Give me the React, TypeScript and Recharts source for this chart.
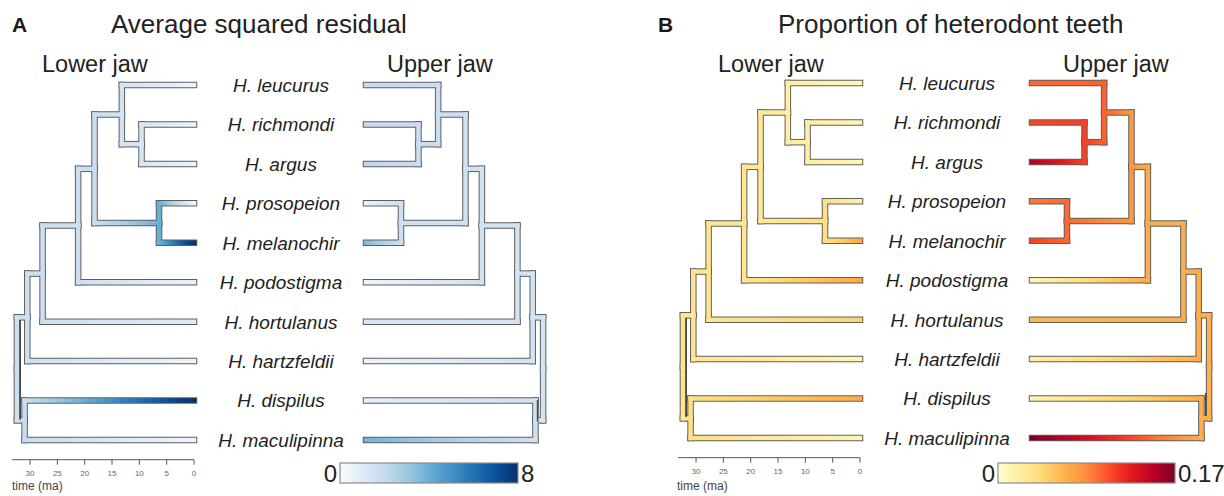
import React from "react";
import { ComposedChart, XAxis, YAxis, ReferenceLine } from "recharts";

const FONT = '"Liberation Sans", Arial, sans-serif';
const OUTLINE = "#5f5f5f";

const species = [
  "H. leucurus",
  "H. richmondi",
  "H. argus",
  "H. prosopeion",
  "H. melanochir",
  "H. podostigma",
  "H. hortulanus",
  "H. hartzfeldii",
  "H. dispilus",
  "H. maculipinna",
];

// internal nodes get ids 10..18 (after the tips), listed with their two children
const nodeChildren: [number, number][] = [
  [1, 2],
  [0, 10],
  [3, 4],
  [11, 12],
  [13, 5],
  [14, 6],
  [15, 7],
  [8, 9],
  [16, 17],
];
// node ages in ma, same order
const nodeAges = [9.6, 13.2, 6.4, 18.2, 21.2, 27.7, 30.5, 31.0, 32.4];

const timeTicks = [0, 5, 10, 15, 20, 25, 30];
const rowTicks = species.map((_, i) => i);

// mapped values: 10 tips (species order) then nodes 10..18
const residualLower = [
  0.4, 0.5, 0.5, 0.3, 8.0, 0.6, 1.0, 0.4, 8.0, 0.4,
  1.3, 1.5, 4.0, 1.8, 1.7, 1.7, 1.7, 1.9, 1.7,
];
const residualUpper = [
  2.0, 1.8, 2.2, 0.6, 3.5, 0.5, 1.3, 0.5, 0.8, 3.8,
  1.8, 1.8, 1.7, 1.6, 1.5, 1.5, 1.5, 1.6, 1.5,
];
const heterodontLower = [
  0.01, 0.012, 0.012, 0.015, 0.068, 0.07, 0.045, 0.012, 0.068, 0.012,
  0.018, 0.02, 0.035, 0.025, 0.03, 0.03, 0.03, 0.035, 0.03,
];
const heterodontUpper = [
  0.097, 0.11, 0.15, 0.092, 0.112, 0.012, 0.062, 0.018, 0.015, 0.17,
  0.112, 0.1, 0.097, 0.08, 0.068, 0.066, 0.066, 0.066, 0.066,
];

const bluesPalette = [
  "#f7fbff", "#deebf7", "#c6dbef", "#9ecae1", "#6baed6",
  "#4292c6", "#2171b5", "#08519c", "#08306b",
];
const ylOrRdPalette = [
  "#ffffcc", "#ffeda0", "#fed976", "#feb24c", "#fd8d3c",
  "#fc4e2a", "#e31a1c", "#bd0026", "#800026",
];

const nTips = species.length;
const nodeAge = (n: number) => (n < nTips ? 0 : nodeAges[n - nTips]);
const nodeRow: number[] = [...rowTicks];
nodeChildren.forEach(([a, b]) => nodeRow.push((nodeRow[a] + nodeRow[b]) / 2));
const edges = nodeChildren.flatMap(([a, b], k) =>
  [a, b].map((child) => ({ parent: nTips + k, child }))
);

function hexToRgb(h: string) {
  const n = parseInt(h.slice(1), 16);
  return [(n >> 16) & 255, (n >> 8) & 255, n & 255];
}

function colorAt(palette: string[], v: number, max: number) {
  const f = Math.max(0, Math.min(1, v / max)) * (palette.length - 1);
  const i = Math.min(Math.floor(f), palette.length - 2);
  const k = f - i;
  const a = hexToRgb(palette[i]);
  const b = hexToRgb(palette[i + 1]);
  const c = a.map((x, j) => Math.round(x + (b[j] - x) * k));
  return `rgb(${c[0]},${c[1]},${c[2]})`;
}

type TubeProps = {
  x1?: number;
  y1?: number;
  x2?: number;
  y2?: number;
  kind: "outline" | "fill" | "stub";
  colors?: string[];
  gid?: string;
};

function Tube({ x1 = 0, y1 = 0, x2 = 0, y2 = 0, kind, colors = [], gid = "" }: TubeProps) {
  if (kind === "outline") {
    return (
      <line x1={x1} y1={y1} x2={x2} y2={y2} stroke={OUTLINE} strokeWidth={6.5} strokeLinecap="square" />
    );
  }
  if (kind === "stub") {
    return <line x1={x1} y1={y1} x2={x2} y2={y2} stroke="#4a4a4a" strokeWidth={1.6} />;
  }
  if (colors.length === 1) {
    return (
      <line x1={x1} y1={y1} x2={x2} y2={y2} stroke={colors[0]} strokeWidth={4.5} strokeLinecap="square" />
    );
  }
  return (
    <g>
      <defs>
        <linearGradient id={gid} gradientUnits="userSpaceOnUse" x1={x1} y1={y1} x2={x2} y2={y2}>
          {colors.map((c, i) => (
            <stop key={i} offset={i / (colors.length - 1)} stopColor={c} />
          ))}
        </linearGradient>
      </defs>
      <line x1={x1} y1={y1} x2={x2} y2={y2} stroke={`url(#${gid})`} strokeWidth={4.5} strokeLinecap="square" />
    </g>
  );
}

const SpeciesTick = (props: any) => {
  const { x, y, payload } = props;
  return (
    <text
      x={x + 87}
      y={y}
      dy="0.36em"
      textAnchor="middle"
      fontStyle="italic"
      fontSize={19}
      fontFamily={FONT}
      fill="#1e1e1e"
    >
      {species[payload.value]}
    </text>
  );
};

type TreeProps = {
  id: string;
  values: number[];
  palette: string[];
  maxValue: number;
  side: "lower" | "upper";
  left: number;
  dy: number;
  stubAge: number;
  stubRows: number[];
};

function TreeChart({ id, values, palette, maxValue, side, left, dy, stubAge, stubRows }: TreeProps) {
  const lower = side === "lower";
  const color = (v: number) => colorAt(palette, v, maxValue);
  const steps = [0, 1, 2, 3, 4, 5, 6, 7, 8];

  const vSeg = (p: number, c: number) => [
    { x: nodeAge(p), y: nodeRow[p] },
    { x: nodeAge(p), y: nodeRow[c] },
  ];
  const hSeg = (p: number, c: number) => [
    { x: nodeAge(p), y: nodeRow[c] },
    { x: nodeAge(c), y: nodeRow[c] },
  ];

  return (
    <div style={{ position: "absolute", left, top: 0 }}>
      <ComposedChart
        width={lower ? 372 : 202}
        height={496}
        margin={{
          top: 65.3 + dy,
          bottom: lower ? 6.3 - dy : 36.3 - dy,
          left: lower ? 12 : 10,
          right: lower ? 0 : 10,
        }}
      >
        <XAxis
          type="number"
          dataKey="t"
          domain={[0, 33.3]}
          allowDataOverflow
          reversed={lower}
          ticks={timeTicks}
          interval={0}
          hide={!lower}
          height={30}
          tickSize={5}
          tickMargin={6}
          tick={{ fontSize: 8, fill: "#666", fontFamily: FONT }}
          axisLine={{ stroke: "#555" }}
          tickLine={{ stroke: "#555" }}
        />
        <YAxis
          type="number"
          dataKey="y"
          domain={[-0.5, 9.5]}
          allowDataOverflow
          reversed
          ticks={rowTicks}
          interval={0}
          hide={!lower}
          orientation="right"
          width={178}
          axisLine={false}
          tickLine={false}
          tickSize={0}
          tickMargin={0}
          tick={(p: any) => <SpeciesTick {...p} />}
        />
        {edges.map((e) => (
          <ReferenceLine
            key={`ov-${e.child}`}
            segment={vSeg(e.parent, e.child)}
            ifOverflow="visible"
            shape={<Tube kind="outline" />}
          />
        ))}
        {edges.map((e) => (
          <ReferenceLine
            key={`oh-${e.child}`}
            segment={hSeg(e.parent, e.child)}
            ifOverflow="visible"
            shape={<Tube kind="outline" />}
          />
        ))}
        {edges.map((e) => (
          <ReferenceLine
            key={`fv-${e.child}`}
            segment={vSeg(e.parent, e.child)}
            ifOverflow="visible"
            shape={<Tube kind="fill" colors={[color(values[e.parent])]} />}
          />
        ))}
        {edges.map((e) => {
          const a = values[e.parent];
          const b = values[e.child];
          const colors = steps.map((s) => color(a + ((b - a) * s) / 8));
          return (
            <ReferenceLine
              key={`fh-${e.child}`}
              segment={hSeg(e.parent, e.child)}
              ifOverflow="visible"
              shape={<Tube kind="fill" colors={colors} gid={`${id}-g${e.child}`} />}
            />
          );
        })}
        <ReferenceLine
          segment={[
            { x: stubAge, y: stubRows[0] },
            { x: stubAge, y: stubRows[1] },
          ]}
          ifOverflow="visible"
          shape={<Tube kind="stub" />}
        />
      </ComposedChart>
    </div>
  );
}

function ColorBar({
  id,
  x,
  w,
  palette,
  minLabel,
  maxLabel,
}: {
  id: string;
  x: number;
  w: number;
  palette: string[];
  minLabel: string;
  maxLabel: string;
}) {
  const y = 463;
  const h = 20;
  return (
    <g>
      <defs>
        <linearGradient id={id} x1="0" y1="0" x2="1" y2="0">
          {palette.map((c, i) => (
            <stop key={i} offset={i / (palette.length - 1)} stopColor={c} />
          ))}
        </linearGradient>
      </defs>
      <rect x={x} y={y} width={w} height={h} fill={`url(#${id})`} stroke="#8a8a8a" strokeWidth={1.2} />
      <text x={x - 3} y={y + h - 1} textAnchor="end" fontSize={24} fill="#222">
        {minLabel}
      </text>
      <text x={x + w + 3} y={y + h - 1} textAnchor="start" fontSize={24} fill="#222">
        {maxLabel}
      </text>
    </g>
  );
}

export default function App() {
  return (
    <div
      style={{
        position: "absolute",
        left: 0,
        top: 0,
        width: 1224,
        height: 496,
        background: "#fff",
        overflow: "hidden",
        fontFamily: FONT,
      }}
    >
      <svg width={1224} height={496} style={{ position: "absolute", left: 0, top: 0 }} fontFamily={FONT}>
        <text x={12} y={32} fontSize={21} fontWeight="bold" fill="#1a1a1a">A</text>
        <text x={111} y={33} fontSize={26} fill="#222">Average squared residual</text>
        <text x={42} y={72} fontSize={23.5} fill="#222">Lower jaw</text>
        <text x={387} y={72} fontSize={23.5} fill="#222">Upper jaw</text>
        <text x={12} y={490} fontSize={12} fill="#444">time (ma)</text>
        <ColorBar id="cb-a" x={340} w={178} palette={bluesPalette} minLabel="0" maxLabel="8" />

        <text x={658} y={32} fontSize={21} fontWeight="bold" fill="#1a1a1a">B</text>
        <text x={778} y={33} fontSize={26} fill="#222">Proportion of heterodont teeth</text>
        <text x={718} y={72} fontSize={23.5} fill="#222">Lower jaw</text>
        <text x={1063} y={72} fontSize={23.5} fill="#222">Upper jaw</text>
        <text x={677} y={490} fontSize={12} fill="#444">time (ma)</text>
        <ColorBar id="cb-b" x={998} w={177} palette={ylOrRdPalette} minLabel="0" maxLabel="0.17" />
      </svg>

      <TreeChart id="al" values={residualLower} palette={bluesPalette} maxValue={8} side="lower" left={0} dy={0} stubAge={31.8} stubRows={[5.96, 8.49]} />
      <TreeChart id="au" values={residualUpper} palette={bluesPalette} maxValue={8} side="upper" left={356} dy={0} stubAge={31.4} stubRows={[7.99, 8.54]} />
      <TreeChart id="bl" values={heterodontLower} palette={ylOrRdPalette} maxValue={0.17} side="lower" left={666} dy={-2} stubAge={31.8} stubRows={[5.96, 8.47]} />
      <TreeChart id="bu" values={heterodontUpper} palette={ylOrRdPalette} maxValue={0.17} side="upper" left={1022} dy={-2} stubAge={31.8} stubRows={[7.86, 8.42]} />
    </div>
  );
}
